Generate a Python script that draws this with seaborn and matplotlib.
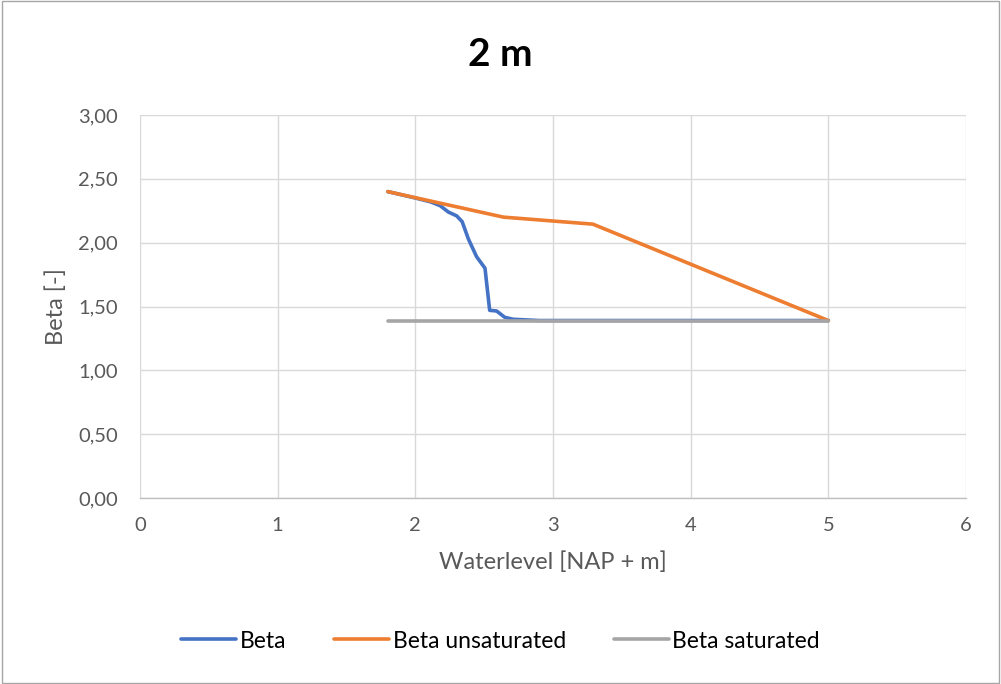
import matplotlib
matplotlib.use("Agg")
import matplotlib.pyplot as plt
import matplotlib.ticker as mticker
import pandas as pd
import seaborn as sns

# Water level [NAP + m] and reliability index per series
beta_x = [1.80, 2.00, 2.11, 2.18, 2.24, 2.30, 2.34, 2.385, 2.445, 2.506, 2.54, 2.59, 2.65, 2.71, 2.90, 3.50, 4.00, 5.00]
beta_y = [2.40, 2.35, 2.32, 2.29, 2.24, 2.21, 2.165, 2.03, 1.89, 1.80, 1.47, 1.465, 1.415, 1.40, 1.39, 1.39, 1.39, 1.39]

unsat_x = [1.80, 2.64, 3.29, 5.00]
unsat_y = [2.40, 2.20, 2.145, 1.39]

sat_x = [1.80, 5.00]
sat_y = [1.39, 1.39]

series_names = ["Beta", "Beta unsaturated", "Beta saturated"]
series_colors = ["#4472C4", "#ED7D31", "#A5A5A5"]

frames = []
for name, xs, ys in zip(series_names, [beta_x, unsat_x, sat_x], [beta_y, unsat_y, sat_y]):
    frames.append(pd.DataFrame({"x": xs, "y": ys, "series": name}))
df = pd.concat(frames, ignore_index=True)

sns.set_style("white")
plt.rcParams["font.family"] = ["Lato", "DejaVu Sans"]

fig = plt.figure(figsize=(10.01, 6.84), dpi=100)
ax = fig.add_axes([140 / 1001, 1 - 498 / 684, 826 / 1001, 383 / 684])

# Series drawn in order, later ones on top
for i, name in enumerate(series_names):
    sub = df[df["series"] == name]
    sns.lineplot(data=sub, x="x", y="y", ax=ax, sort=False, estimator=None,
                 color=series_colors[i], linewidth=2.6, label=name, zorder=3 + i)

ax.set_xlim(0, 6)
ax.set_ylim(0, 3)
ax.set_xticks(range(0, 7))
ax.set_yticks([i * 0.5 for i in range(7)])
ax.yaxis.set_major_formatter(mticker.FuncFormatter(lambda v, p: f"{v:.2f}".replace(".", ",")))
ax.grid(True, color="#D9D9D9", linewidth=1.0, zorder=0)
for side in ["left", "right", "top"]:
    ax.spines[side].set_visible(False)
ax.spines["bottom"].set_color("#BFBFBF")
ax.spines["bottom"].set_linewidth(1.0)
ax.tick_params(axis="both", length=0, labelsize=14.5, colors="#595959")
ax.tick_params(axis="x", pad=14)
ax.tick_params(axis="y", pad=16)

ax.set_xlabel("Waterlevel [NAP + m]", fontsize=17, color="#595959", labelpad=12)
ax.set_ylabel("Beta [-]", fontsize=17, color="#595959", labelpad=8)

fig.text(0.5, 1 - 55 / 684, "2 m", ha="center", va="center", fontsize=28,
         fontweight="bold", color="black")

handles, labels = ax.get_legend_handles_labels()
hmap = dict(zip(labels, handles))
ax.get_legend().remove()
fig.legend([hmap[n] for n in series_names], series_names, loc="center",
           bbox_to_anchor=(0.5, 1 - 641 / 684), ncol=3, frameon=False,
           fontsize=16.5, handlelength=2.4, handletextpad=0.15, columnspacing=2.1,
           labelcolor="black")

# Outer chart border
fig.patches.append(plt.Rectangle((0.002, 0.002), 0.996, 0.996, transform=fig.transFigure,
                                 fill=False, edgecolor="#A6A6A6", linewidth=1.0))

fig.savefig("out.png", dpi=100, facecolor="white")
